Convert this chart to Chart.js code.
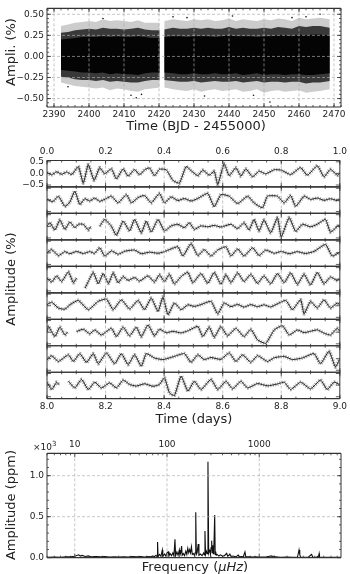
<!DOCTYPE html>
<html>
<head>
<meta charset="utf-8">
<script src="https://cdn.jsdelivr.net/npm/chart.js@4.4.0/dist/chart.umd.min.js"></script>
<style>
body { margin: 0; background: #fff; width: 350px; height: 574px; position: relative; overflow: hidden; font-family: "DejaVu Sans", sans-serif; color: #222; }
.box { position: absolute; left: 0; width: 350px; }
.lbl { position: absolute; font-size: 13px; white-space: nowrap; transform: translate(-50%, -50%); }
.rot { transform: translate(-50%, -50%) rotate(-90deg); }
</style>
</head>
<body>
<div class="box" style="top:0;height:121px"><canvas id="cTop"></canvas></div>
<div class="box" style="top:140px;height:280px"><canvas id="cMid"></canvas></div>
<div class="box" style="top:436px;height:138px"><canvas id="cBot"></canvas></div>

<div class="lbl rot" style="left:10px;top:52px">Ampli. (%)</div>
<div class="lbl" style="left:196px;top:125px">Time (BJD - 2455000)</div>
<div class="lbl rot" style="left:10px;top:279px">Amplitude (%)</div>
<div class="lbl" style="left:194px;top:418px">Time (days)</div>
<div style="position:absolute;left:33px;top:440px;font-size:9px">×10<sup style="font-size:7px">3</sup></div>
<div class="lbl rot" style="left:10px;top:505px">Amplitude (ppm)</div>
<div class="lbl" style="left:195px;top:566px">Frequency (<i>μHz</i>)</div>

<script>
// ---- top panel: light curve envelope (binned) ----
const bandT = [2392,2394,2396,2398,2400,2402,2404,2406,2408,2410,2412,2414,2416,2418,2420.2,2420.8,2421.5,2424,2426,2428,2430,2432,2434,2436,2438,2440,2442,2444,2446,2448,2450,2452,2454,2456,2458,2460,2462,2464,2466,2468.8];
const outerHi = [0.36,0.38,0.40,0.41,0.42,0.41,0.44,0.42,0.43,0.42,0.41,0.43,0.40,0.40,0.40,null,0.42,0.44,0.43,0.42,0.44,0.43,0.44,0.42,0.43,0.45,0.42,0.44,0.43,0.42,0.44,0.43,0.45,0.44,0.42,0.46,0.44,0.45,0.46,0.44];
const outerLo = [-0.31,-0.33,-0.35,-0.36,-0.37,-0.38,-0.37,-0.40,-0.38,-0.39,-0.41,-0.42,-0.39,-0.38,-0.37,null,-0.37,-0.39,-0.40,-0.41,-0.39,-0.42,-0.40,-0.39,-0.41,-0.40,-0.39,-0.42,-0.41,-0.39,-0.43,-0.41,-0.40,-0.42,-0.41,-0.40,-0.43,-0.42,-0.41,-0.39];
const midHi = [0.28,0.29,0.31,0.32,0.33,0.32,0.34,0.33,0.33,0.32,0.33,0.34,0.32,0.31,0.31,null,0.32,0.34,0.33,0.33,0.34,0.33,0.34,0.33,0.33,0.35,0.33,0.34,0.33,0.33,0.34,0.33,0.35,0.34,0.33,0.36,0.35,0.36,0.36,0.34];
const midLo = [-0.24,-0.25,-0.27,-0.28,-0.28,-0.29,-0.28,-0.30,-0.29,-0.30,-0.31,-0.31,-0.29,-0.28,-0.28,null,-0.28,-0.29,-0.30,-0.30,-0.29,-0.31,-0.30,-0.29,-0.30,-0.30,-0.29,-0.31,-0.30,-0.29,-0.31,-0.30,-0.30,-0.31,-0.30,-0.30,-0.32,-0.31,-0.31,-0.29];
const coreHi = [0.20,0.21,0.22,0.23,0.23,0.23,0.24,0.23,0.24,0.23,0.23,0.24,0.23,0.22,0.22,null,0.23,0.24,0.24,0.23,0.24,0.24,0.24,0.23,0.24,0.25,0.24,0.24,0.24,0.23,0.24,0.24,0.25,0.25,0.24,0.26,0.25,0.26,0.26,0.25];
const coreLo = [-0.16,-0.17,-0.18,-0.19,-0.19,-0.20,-0.19,-0.21,-0.20,-0.21,-0.21,-0.22,-0.20,-0.19,-0.19,null,-0.19,-0.20,-0.21,-0.21,-0.20,-0.21,-0.21,-0.20,-0.21,-0.21,-0.20,-0.22,-0.21,-0.20,-0.22,-0.21,-0.21,-0.22,-0.21,-0.21,-0.22,-0.22,-0.21,-0.20];
const outT = [2394,2404,2412,2413.5,2415,2424,2428,2433,2441,2447,2451.7,2458,2462,2466];
const outA = [-0.36,0.45,-0.46,-0.49,-0.45,0.47,0.46,-0.47,0.48,-0.46,-0.54,0.46,0.47,0.50];

// ---- middle panel: one day per strip, [time in day, amplitude %], null = gap ----
const strip0 = [[0.000,0.04],[0.016,-0.06],[0.033,0.07],[0.050,-0.04],[0.067,0.06],[0.085,-0.05],[0.107,0.30],[0.124,-0.42],[0.141,0.38],[0.161,-0.30],[0.180,0.25],[0.197,-0.02],[0.220,0.20],[0.237,-0.24],[0.260,0.20],[0.277,-0.12],[0.299,0.17],[0.316,-0.06],[0.333,0.15],[0.350,0.24],[0.367,-0.10],[0.384,0.18],[0.407,0.16],[0.430,-0.30],[0.452,-0.42],[0.475,0.30],[0.492,0.12],[0.515,-0.10],[0.532,0.15],[0.554,-0.08],[0.571,0.10],[0.583,-0.48],[0.605,0.42],[0.622,-0.10],[0.645,0.25],[0.662,-0.12],[0.679,0.20],[0.702,-0.15],[0.724,0.10],[0.747,-0.02],[0.776,0.16],[0.800,0.14],[0.832,-0.05],[0.866,0.25],[0.889,-0.08],[0.923,0.33],[0.946,-0.15],[0.968,0.18],[0.991,-0.08],[1.000,0.00]];
const strip1 = [[0.000,0.02],[0.020,-0.08],[0.039,0.16],[0.061,-0.28],[0.078,-0.10],[0.095,0.38],[0.112,-0.20],[0.129,0.05],[0.146,-0.05],[0.163,0.08],[0.180,-0.06],[0.203,0.06],[0.220,0.16],[0.243,-0.13],[0.271,0.23],[0.288,-0.13],[0.311,0.10],[0.333,0.19],[0.356,-0.13],[0.384,0.28],[0.401,-0.13],[0.424,0.13],[0.447,-0.03],[0.469,0.06],[0.492,-0.05],[0.515,0.06],[0.549,0.28],[0.571,-0.30],[0.594,0.23],[0.622,0.16],[0.651,-0.16],[0.685,0.16],[0.707,-0.13],[0.736,-0.34],[0.753,0.16],[0.787,0.16],[0.810,-0.13],[0.832,0.19],[0.849,-0.28],[0.878,0.16],[0.900,0.02],[0.923,0.08],[0.946,-0.02],[0.968,0.05],[0.991,-0.03],[1.000,0.02]];
const strip2 = [[0.000,0.01],[0.010,0.16],[0.027,-0.16],[0.044,0.28],[0.061,-0.13],[0.078,0.19],[0.095,-0.06],[0.107,0.09],[0.124,0.09],[0.141,-0.16],[0.150,0.00],[0.165,null],[0.180,0.00],[0.197,0.30],[0.220,0.00],[0.237,-0.39],[0.260,0.23],[0.282,-0.20],[0.299,0.30],[0.322,-0.28],[0.339,0.23],[0.356,-0.25],[0.379,0.30],[0.401,-0.20],[0.424,0.02],[0.447,0.09],[0.469,-0.06],[0.486,0.16],[0.503,-0.13],[0.526,0.02],[0.549,-0.02],[0.571,0.04],[0.594,-0.03],[0.628,0.09],[0.651,-0.10],[0.673,0.16],[0.690,-0.16],[0.707,0.30],[0.724,-0.20],[0.741,0.28],[0.764,-0.28],[0.787,0.38],[0.800,-0.45],[0.827,0.38],[0.849,-0.22],[0.872,0.09],[0.900,-0.02],[0.923,0.09],[0.951,0.30],[0.968,-0.25],[0.997,0.06],[1.000,-0.05]];
const strip3 = [[0.000,0.00],[0.016,0.14],[0.039,-0.12],[0.061,0.05],[0.078,-0.04],[0.101,0.06],[0.124,-0.03],[0.146,0.05],[0.163,-0.02],[0.180,0.22],[0.197,-0.14],[0.220,0.08],[0.243,-0.06],[0.266,0.07],[0.299,0.12],[0.322,-0.04],[0.350,0.03],[0.379,-0.02],[0.401,0.05],[0.424,0.17],[0.447,0.26],[0.464,-0.14],[0.492,0.40],[0.515,-0.12],[0.537,0.14],[0.560,-0.14],[0.583,0.12],[0.611,0.26],[0.628,-0.14],[0.651,0.17],[0.673,-0.14],[0.702,0.22],[0.724,-0.12],[0.747,0.12],[0.776,-0.02],[0.800,0.06],[0.827,-0.04],[0.855,0.05],[0.883,-0.03],[0.912,0.06],[0.951,0.36],[0.974,-0.14],[1.000,0.03]];
const strip4 = [[0.000,0.05],[0.016,-0.12],[0.033,0.15],[0.050,-0.10],[0.073,0.32],[0.090,-0.15],[0.101,0.05],[0.115,null],[0.130,-0.38],[0.141,-0.10],[0.158,0.30],[0.175,-0.20],[0.192,0.25],[0.210,-0.18],[0.226,0.28],[0.243,-0.15],[0.260,0.12],[0.277,-0.05],[0.299,0.08],[0.316,-0.08],[0.345,0.15],[0.367,-0.12],[0.384,0.20],[0.401,-0.10],[0.418,0.22],[0.435,-0.20],[0.458,0.12],[0.481,0.30],[0.498,-0.15],[0.526,0.25],[0.549,-0.18],[0.571,0.30],[0.594,-0.22],[0.611,0.20],[0.628,-0.15],[0.651,0.28],[0.673,-0.10],[0.696,0.22],[0.719,-0.18],[0.741,0.15],[0.764,-0.20],[0.787,0.25],[0.810,-0.15],[0.832,0.28],[0.855,-0.22],[0.878,0.22],[0.900,-0.25],[0.923,0.30],[0.946,-0.20],[0.968,0.10],[0.991,-0.06],[1.000,0.02]];
const strip5 = [[0.000,0.05],[0.016,0.15],[0.039,-0.10],[0.061,-0.15],[0.079,0.05],[0.107,0.23],[0.141,-0.17],[0.175,0.19],[0.203,0.29],[0.226,-0.17],[0.254,0.26],[0.282,-0.14],[0.311,0.23],[0.333,-0.17],[0.356,0.33],[0.379,-0.25],[0.396,0.38],[0.413,-0.39],[0.435,0.12],[0.458,-0.17],[0.481,0.04],[0.503,-0.03],[0.526,0.05],[0.560,0.19],[0.583,-0.35],[0.605,0.12],[0.628,-0.04],[0.651,0.06],[0.673,-0.06],[0.696,0.05],[0.719,-0.04],[0.741,0.04],[0.764,-0.05],[0.815,0.23],[0.838,-0.17],[0.866,0.26],[0.878,-0.35],[0.900,0.19],[0.923,-0.10],[0.946,0.26],[0.968,-0.10],[0.991,0.12],[1.000,0.05]];
const strip6 = [[0.000,0.00],[0.005,0.25],[0.027,-0.19],[0.044,0.22],[0.061,-0.12],[0.070,0.00],[0.085,null],[0.101,0.03],[0.124,0.13],[0.146,-0.07],[0.163,0.10],[0.186,-0.12],[0.220,0.17],[0.237,-0.19],[0.260,0.22],[0.282,-0.16],[0.305,0.22],[0.322,-0.19],[0.345,0.32],[0.367,-0.16],[0.384,0.13],[0.407,-0.02],[0.430,0.04],[0.458,-0.03],[0.481,0.06],[0.515,0.25],[0.532,-0.19],[0.554,0.22],[0.571,-0.22],[0.594,0.25],[0.616,-0.16],[0.645,0.17],[0.673,-0.19],[0.696,0.13],[0.719,-0.33],[0.747,-0.48],[0.776,0.10],[0.804,0.28],[0.827,-0.12],[0.855,0.10],[0.878,-0.02],[0.900,0.04],[0.923,0.10],[0.946,-0.04],[0.968,-0.12],[0.991,0.17],[1.000,0.05]];
const strip7 = [[0.000,-0.04],[0.016,0.13],[0.039,-0.12],[0.073,0.17],[0.090,-0.12],[0.112,0.22],[0.135,-0.16],[0.158,0.22],[0.175,-0.22],[0.203,0.25],[0.231,-0.22],[0.254,0.22],[0.277,-0.26],[0.299,0.17],[0.322,-0.33],[0.339,0.22],[0.367,0.03],[0.396,-0.04],[0.435,0.10],[0.469,0.22],[0.492,-0.16],[0.515,0.17],[0.537,-0.04],[0.560,0.05],[0.594,-0.03],[0.622,0.25],[0.645,-0.12],[0.668,0.17],[0.696,-0.16],[0.719,0.13],[0.753,-0.12],[0.776,0.04],[0.810,0.10],[0.838,-0.04],[0.872,0.03],[0.912,0.22],[0.934,-0.22],[0.963,0.32],[0.985,-0.36],[1.000,0.00]];
const strip8 = [[0.000,0.13],[0.016,-0.19],[0.033,0.13],[0.042,0.00],[0.055,null],[0.073,0.17],[0.095,-0.12],[0.118,0.25],[0.141,-0.19],[0.163,0.13],[0.186,-0.12],[0.214,0.10],[0.237,-0.12],[0.260,0.22],[0.282,0.03],[0.305,-0.04],[0.333,0.06],[0.362,-0.05],[0.384,0.03],[0.401,0.32],[0.418,-0.33],[0.435,-0.45],[0.458,0.39],[0.481,-0.26],[0.503,0.17],[0.526,-0.19],[0.560,0.25],[0.583,-0.19],[0.611,0.17],[0.634,-0.16],[0.662,0.17],[0.685,-0.12],[0.719,0.07],[0.753,-0.03],[0.787,0.05],[0.810,0.13],[0.832,-0.19],[0.866,0.13],[0.900,-0.16],[0.934,0.22],[0.957,-0.19],[0.980,0.13],[0.997,0.04],[1.000,0.00]];
const strips = [strip0, strip1, strip2, strip3, strip4, strip5, strip6, strip7, strip8];

// ---- bottom panel: amplitude spectrum ----
const specFreq = [5,6,7,8,9,10,11,11.5,12,13,14,15,17,19,21,24,27,30,34,38,42,47,52,57,62,66,70,73,76,78,79,80,83,86,89,90,94,97,100,103,105,108,112,116,119,122,124,128,132,136,138,141,144,146,150,155,160,164,168,172,176,180,184,188,193,198,202,205,208,212,218,222,230,240,250,254,258,262,268,273,278,283,288,292,296,300,305,309,314,318,322,329,333,337,342,350,365,380,400,420,443,455,470,480,495,520,550,570,592,610,640,670,700,715,750,800,850,900,1000,1100,1200,1300,1350,1400,1450,1500,1700,2000,2300,2600,2700,2750,2800,3000,3400,3600,3700,3800,4200,4400,4460,4500,5000,6000,7000,7700];
const specAmp = [5,8,6,10,12,18,35,20,28,15,22,12,15,10,14,9,12,8,12,9,14,10,13,9,15,12,20,14,30,12,190,15,40,18,94,15,45,20,60,73,20,50,25,60,20,224,25,70,30,94,30,60,143,30,50,25,80,40,114,60,100,60,134,40,50,30,60,553,40,60,167,30,45,25,60,35,326,40,80,50,1171,60,94,80,40,120,208,60,150,50,100,521,40,73,30,40,20,35,18,25,53,20,30,45,15,20,12,18,33,12,15,10,70,12,10,12,8,10,7,8,10,18,22,15,20,10,6,7,5,8,94,40,8,5,6,30,40,6,8,20,50,8,5,5,4,4];

Chart.defaults.font.family = '"DejaVu Sans", sans-serif';
Chart.defaults.font.size = 9;
Chart.defaults.color = '#222';
Chart.defaults.animation = false;

const minus = s => s.replace('-', '\u2212');
const fixedTicks = vals => s => { s.ticks = vals.map(v => ({ value: v })); };
const noGrid = { display: false, drawTicks: false };
function steps(a, b, st) {
    const out = [];
    for (let v = a; v <= b + 1e-9; v += st) out.push(+v.toFixed(6));
    return out;
}
function seg(ctx, x1, y1, x2, y2) {
    ctx.beginPath(); ctx.moveTo(x1, y1); ctx.lineTo(x2, y2); ctx.stroke();
}

// dashed grid on top of data, inward ticks and frame (matplotlib look)
function deco(cfg) {
    return {
        id: 'deco',
        afterDatasetsDraw(chart) {
            const { ctx, chartArea: a } = chart;
            const xs = chart.scales[cfg.x], ys = chart.scales.y;
            const px = v => xs.getPixelForValue(v), py = v => ys.getPixelForValue(v);
            ctx.save();
            ctx.strokeStyle = 'rgba(170,170,170,0.85)';
            ctx.lineWidth = 0.8;
            ctx.setLineDash([3, 2]);
            cfg.gridX.forEach(v => seg(ctx, px(v), a.top, px(v), a.bottom));
            cfg.gridY.forEach(v => seg(ctx, a.left, py(v), a.right, py(v)));
            ctx.setLineDash([]);
            ctx.strokeStyle = '#333';
            cfg.rows.forEach(([t, b]) => {
                const top = py(t), bot = py(b);
                ctx.lineWidth = 0.8;
                cfg.majorX.forEach(v => { seg(ctx, px(v), top, px(v), top + 4); seg(ctx, px(v), bot, px(v), bot - 4); });
                cfg.minorX.forEach(v => { seg(ctx, px(v), top, px(v), top + 2); seg(ctx, px(v), bot, px(v), bot - 2); });
                ctx.lineWidth = 1.2;
                seg(ctx, a.left, top, a.right, top);
                seg(ctx, a.left, bot, a.right, bot);
            });
            ctx.lineWidth = 0.8;
            cfg.majorY.forEach(v => { seg(ctx, a.left, py(v), a.left + 4, py(v)); seg(ctx, a.right, py(v), a.right - 4, py(v)); });
            cfg.minorY.forEach(v => { seg(ctx, a.left, py(v), a.left + 2, py(v)); seg(ctx, a.right, py(v), a.right - 2, py(v)); });
            ctx.lineWidth = 1;
            seg(ctx, a.left, a.top, a.left, a.bottom);
            seg(ctx, a.right, a.top, a.right, a.bottom);
            ctx.restore();
        }
    };
}

// ---------- top chart ----------
const pts = ys => bandT.map((t, i) => ({ x: t, y: ys[i] }));
const bandSet = (ys, fill, color) => ({
    data: pts(ys), fill: fill, backgroundColor: color, borderWidth: 0,
    pointRadius: 0, spanGaps: false
});
new Chart(document.getElementById('cTop'), {
    type: 'line',
    data: {
        datasets: [
            bandSet(outerHi, '+1', 'rgba(0,0,0,0.2)'), bandSet(outerLo, false, 'transparent'),
            bandSet(midHi, '+1', 'rgba(0,0,0,0.72)'), bandSet(midLo, false, 'transparent'),
            bandSet(coreHi, '+1', 'rgba(8,8,8,0.93)'), bandSet(coreLo, false, 'transparent'),
            { type: 'scatter', data: outT.map((t, i) => ({ x: t, y: outA[i] })), pointRadius: 0.8, backgroundColor: '#111', borderWidth: 0 }
        ]
    },
    options: {
        responsive: true, maintainAspectRatio: false, devicePixelRatio: 1,
        layout: { padding: { top: 2, right: 9 }, autoPadding: false },
        plugins: { legend: { display: false }, tooltip: { enabled: false } },
        scales: {
            x: {
                type: 'linear', min: 2388, max: 2472,
                afterBuildTicks: fixedTicks(steps(2390, 2470, 10)),
                afterFit: s => { s.height = 14; },
                grid: noGrid, border: { display: false },
                ticks: { padding: 2, maxRotation: 0, callback: v => String(v) }
            },
            y: {
                min: -0.6, max: 0.57,
                afterBuildTicks: fixedTicks([-0.5, -0.25, 0, 0.25, 0.5]),
                afterFit: s => { s.width = 47; },
                grid: noGrid, border: { display: false },
                ticks: { padding: 3, callback: v => minus(v.toFixed(2)) }
            }
        }
    },
    plugins: [deco({
        x: 'x', rows: [[0.57, -0.6]],
        gridX: steps(2390, 2470, 10), gridY: [-0.5, -0.25, 0, 0.25, 0.5],
        majorX: steps(2390, 2470, 10), minorX: steps(2388, 2472, 2),
        majorY: [-0.5, -0.25, 0, 0.25, 0.5], minorY: steps(-0.55, 0.55, 0.05)
    })]
});

// ---------- middle chart ----------
const Y_TOP = 0.556, STEP = 1.14;
const midSets = [];
strips.forEach((s, k) => {
    const d = s.map(([t, v]) => ({ x: t, y: v === null ? null : v - k * STEP }));
    midSets.push({ data: d, borderColor: 'rgba(0,0,0,0.34)', borderWidth: 3.6, borderDash: [1.2, 1.2], pointRadius: 0, tension: 0.15, spanGaps: false });
    midSets.push({ data: d, borderColor: '#2e2e2e', borderWidth: 1, pointRadius: 0, tension: 0.15, spanGaps: false });
});
const rows = strips.map((s, k) => [Y_TOP - k * STEP, Y_TOP - (k + 1) * STEP]);
const stripTicks = [];
strips.forEach((s, k) => [0.5, 0, -0.5].forEach(v => stripTicks.push(v - k * STEP)));
new Chart(document.getElementById('cMid'), {
    type: 'line',
    data: { datasets: midSets },
    options: {
        responsive: true, maintainAspectRatio: false, devicePixelRatio: 1,
        layout: { padding: { right: 9 }, autoPadding: false },
        plugins: { legend: { display: false }, tooltip: { enabled: false } },
        scales: {
            x: {
                type: 'linear', position: 'top', min: 0, max: 1,
                afterBuildTicks: fixedTicks(steps(0, 1, 0.2)),
                afterFit: s => { s.height = 20.5; },
                grid: noGrid, border: { display: false },
                ticks: { padding: 3, maxRotation: 0, callback: v => v.toFixed(1) }
            },
            x2: {
                type: 'linear', position: 'bottom', min: 8, max: 9,
                afterBuildTicks: fixedTicks(steps(8, 9, 0.2)),
                afterFit: s => { s.height = 21.3; },
                grid: noGrid, border: { display: false },
                ticks: { padding: 3, maxRotation: 0, callback: v => v.toFixed(1) }
            },
            y: {
                min: Y_TOP - 9 * STEP, max: Y_TOP,
                afterBuildTicks: fixedTicks([0.5, 0, -0.5]),
                afterFit: s => { s.width = 47; },
                grid: noGrid, border: { display: false },
                ticks: { padding: 3, callback: v => minus(v.toFixed(1)) }
            }
        }
    },
    plugins: [deco({
        x: 'x', rows: rows,
        gridX: [0.2, 0.4, 0.6, 0.8], gridY: [],
        majorX: steps(0, 1, 0.2), minorX: steps(0, 1, 0.05),
        majorY: stripTicks, minorY: []
    })]
});

// ---------- bottom chart ----------
const logMinor = [];
[1, 10, 100, 1000].forEach(d => [2, 3, 4, 5, 6, 7, 8, 9].forEach(m => { if (m * d >= 5 && m * d <= 7700) logMinor.push(m * d); }));
new Chart(document.getElementById('cBot'), {
    type: 'line',
    data: {
        datasets: [{
            data: specFreq.map((f, i) => ({ x: f, y: specAmp[i] })),
            borderColor: '#111', borderWidth: 1.1, pointRadius: 0, tension: 0
        }]
    },
    options: {
        responsive: true, maintainAspectRatio: false, devicePixelRatio: 1,
        layout: { padding: { right: 9, bottom: 16.3 }, autoPadding: false },
        plugins: { legend: { display: false }, tooltip: { enabled: false } },
        scales: {
            x: {
                type: 'logarithmic', position: 'top', min: 5, max: 7700,
                afterBuildTicks: fixedTicks([10, 100, 1000]),
                afterFit: s => { s.height = 17.3; },
                grid: noGrid, border: { display: false },
                ticks: { padding: 3, maxRotation: 0, callback: v => String(v) }
            },
            y: {
                min: 0, max: 1273,
                afterBuildTicks: fixedTicks([0, 500, 1000]),
                afterFit: s => { s.width = 47; },
                grid: noGrid, border: { display: false },
                ticks: { padding: 3, callback: v => (v / 1000).toFixed(1) }
            }
        }
    },
    plugins: [deco({
        x: 'x', rows: [[1273, 0]],
        gridX: [10, 100, 1000], gridY: [500, 1000],
        majorX: [10, 100, 1000], minorX: logMinor,
        majorY: [0, 500, 1000], minorY: steps(100, 1200, 100)
    })]
});
</script>
</body>
</html>
